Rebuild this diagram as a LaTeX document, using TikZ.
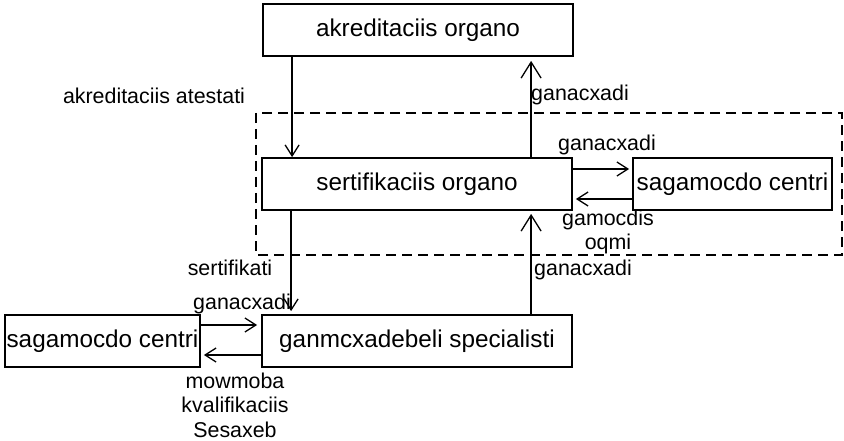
\documentclass[tikz,border=0pt]{standalone}
\usepackage{fontspec}
\setmainfont{Liberation Sans}
\usetikzlibrary{arrows.meta}
\tikzset{
  box/.style={draw, line width=1.8pt, minimum height=52pt, inner sep=0pt,
    font=\fontsize{24.3}{28}\selectfont},
  lbl/.style={inner sep=0pt, align=center, font=\fontsize{21.4}{24.5}\selectfont},
  arr/.style={line width=1.3pt, -{Straight Barb[length=11pt,width=14pt,line width=1.3pt]}},
  arrbig/.style={line width=1.3pt, -{Straight Barb[length=16pt,width=20pt,line width=1.3pt]}},
  frame/.style={draw, line width=1.3pt, dash pattern=on 10pt off 6pt}
}
\begin{document}
\begin{tikzpicture}[x=1pt,y=-1pt]
\useasboundingbox (0,0) rectangle (844,441);

% dashed group around the certification body
\draw[frame] (256,113) rectangle (842,255);

% bodies
\node[box, minimum width=310pt] (ao) at (418,30) {akreditaciis organo};
\node[box, minimum width=310pt] (so) at (417,184) {sertifikaciis organo};
\node[box, minimum width=199pt] (scR) at (732.5,184) {sagamocdo centri};
\node[box, minimum width=310pt] (gs) at (417,341) {ganmcxadebeli specialisti};
\node[box, minimum width=195pt] (scL) at (102.5,341) {sagamocdo centri};

% accreditation certificate and application
\draw[arr] ([xshift=30pt]ao.south west) -- ([xshift=31pt]so.north west);
\draw[arrbig, shorten >=4pt] ([xshift=270pt]so.north west) -- ([xshift=269pt]ao.south west);

% exchange with the right testing centre
\draw[arr, shorten >=3pt] ([yshift=15pt]so.east) -- ([yshift=15pt]scR.west);
\draw[arr, shorten >=3pt] ([yshift=-15pt]scR.west) -- ([yshift=-15pt]so.east);

% certificate and application with the applicant
\draw[arr, shorten >=3pt] ([xshift=30pt]so.south west) -- ([xshift=30pt]gs.north west);
\draw[arrbig, shorten >=3pt] ([xshift=270pt]gs.north west) -- ([xshift=270pt]so.south west);

% exchange with the left testing centre
\draw[arr, shorten >=4pt] ([yshift=16pt]scL.east) -- ([yshift=16pt]gs.west);
\draw[arr, shorten >=3pt] ([yshift=-14pt]gs.west) -- ([yshift=-14pt]scL.east);

% labels
\node[lbl] (l1) at (154,96) {akreditaciis atestati};
\node[lbl] (l2) at (580,95) {ganacxadi};
\node[lbl] (l3) at (607,145) {ganacxadi};
\node[lbl] (l4) at (608,232) {gamocdis\\oqmi};
\node[lbl] (l5) at (583,270) {ganacxadi};
\node[lbl] (l6) at (230,268) {sertifikati};
\node[lbl] (l7) at (242,304) {ganacxadi};
\node[lbl] (l8) at (235,405) {mowmoba\\kvalifikaciis\\Sesaxeb};
\end{tikzpicture}
\end{document}
